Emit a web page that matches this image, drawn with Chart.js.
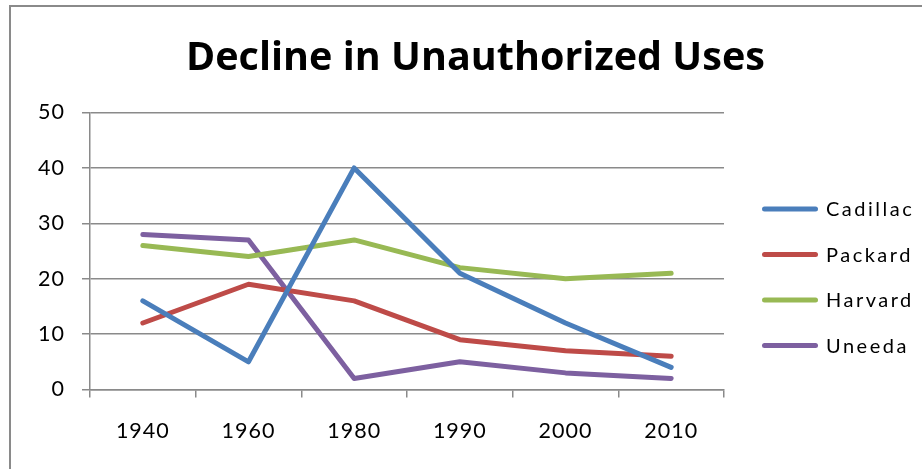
<!DOCTYPE html>
<html>
<head>
<meta charset="utf-8">
<script src="https://cdn.jsdelivr.net/npm/chart.js@4/dist/chart.umd.min.js"></script>
<style>
html,body{margin:0;padding:0;background:#fff;}
#wrap{width:922px;height:469px;}
</style>
</head>
<body>
<div id="wrap"><canvas id="c" width="922" height="469"></canvas></div>
<script>
const categories = ['1940', '1960', '1980', '1990', '2000', '2010'];
const seriesNames = ['Cadillac', 'Packard', 'Harvard', 'Uneeda'];
const cadillac = [16, 5, 40, 21, 12, 4];
const packard = [12, 19, 16, 9, 7, 6];
const harvard = [26, 24, 27, 22, 20, 21];
const uneeda = [28, 27, 2, 5, 3, 2];
const yTicks = [0, 10, 20, 30, 40, 50];
const titleText = 'Decline in Unauthorized Uses';

const colors = ['#4A7EBB', '#BE4B48', '#98B954', '#7D60A0'];
const values = [cadillac, packard, harvard, uneeda];

const datasets = seriesNames.map((n, i) => ({
  label: n,
  data: values[i],
  borderColor: colors[i],
  backgroundColor: colors[i],
  borderWidth: 5,
  pointRadius: 0,
  pointHoverRadius: 0,
  tension: 0,
  borderCapStyle: 'round',
  borderJoinStyle: 'round',
  fill: false
}));

const FONT = 'Lato, "Open Sans", sans-serif';
const TITLE_FONT = '"Open Sans", Lato, sans-serif';

const decorPlugin = {
  id: 'decor',
  beforeDraw(chart) {
    const ctx = chart.ctx;
    ctx.save();
    ctx.fillStyle = '#fff';
    ctx.fillRect(0, 0, chart.width, chart.height);
    ctx.strokeStyle = '#8a8a8a';
    ctx.lineWidth = 2;
    ctx.strokeRect(10, 6, chart.width + 20, chart.height + 20);
    ctx.restore();
    ctx.letterSpacing = '1px';
  },
  afterDraw(chart) {
    const ctx = chart.ctx;
    ctx.save();
    ctx.letterSpacing = '0px';
    // title
    ctx.fillStyle = '#000';
    ctx.font = 'bold 39.5px ' + TITLE_FONT;
    const w = ctx.measureText(titleText).width;
    const sp = Math.max(-2, Math.min(4, (579 - w) / (titleText.length - 1)));
    ctx.letterSpacing = sp.toFixed(2) + 'px';
    ctx.textAlign = 'left';
    ctx.textBaseline = 'alphabetic';
    ctx.fillText(titleText, 186, 69.5);
    // legend
    ctx.letterSpacing = '2.5px';
    ctx.font = '20px ' + FONT;
    ctx.textAlign = 'left';
    ctx.textBaseline = 'middle';
    chart.data.datasets.forEach((ds, i) => {
      const y = 209 + i * 45.5;
      ctx.strokeStyle = ds.borderColor;
      ctx.lineWidth = 5;
      ctx.lineCap = 'round';
      ctx.beginPath();
      ctx.moveTo(764.5, y);
      ctx.lineTo(815.5, y);
      ctx.stroke();
      ctx.fillStyle = '#000';
      ctx.fillText(ds.label, 826, y + 1);
    });
    ctx.restore();
    ctx.letterSpacing = '0px';
  }
};

new Chart(document.getElementById('c'), {
  type: 'line',
  data: { labels: categories, datasets },
  options: {
    responsive: false,
    animation: false,
    events: [],
    layout: { padding: { left: 10, top: 112.5, right: 198, bottom: 0 } },
    plugins: { legend: { display: false }, title: { display: false }, tooltip: { enabled: false } },
    scales: {
      x: {
        type: 'category',
        offset: true,
        grid: { offset: true, drawOnChartArea: false, drawTicks: true, tickLength: 8, color: '#8a8a8a', lineWidth: 1.5 },
        border: { display: true, color: '#8a8a8a', width: 1.5 },
        ticks: { color: '#000', font: { family: FONT, size: 21.5 }, padding: 21, maxRotation: 0 },
        afterFit(s) { s.height = 79.5; }
      },
      y: {
        min: 0, max: 50,
        afterBuildTicks(s) { s.ticks = yTicks.map(v => ({ value: v })); },
        grid: { color: '#8a8a8a', lineWidth: 1.5, tickLength: 8 },
        border: { display: true, color: '#8a8a8a', width: 1.5 },
        ticks: { color: '#000', font: { family: FONT, size: 21.5 }, padding: 17 },
        afterFit(s) { s.width = 80; }
      }
    }
  },
  plugins: [decorPlugin]
});
</script>
</body>
</html>
